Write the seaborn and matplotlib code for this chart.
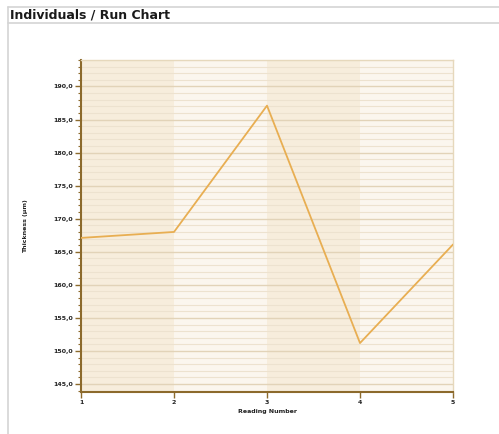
import matplotlib
matplotlib.use("Agg")
import matplotlib.pyplot as plt
import seaborn as sns
import pandas as pd
from matplotlib.ticker import MultipleLocator, FuncFormatter

# values
reading_number = [1, 2, 3, 4, 5]
thickness = [167.1, 168.0, 187.1, 151.2, 166.1]

df = pd.DataFrame({"reading": reading_number, "thickness": thickness})

sns.set_theme(style="white")
plt.rcParams["font.family"] = ["DejaVu Sans"]

fig = plt.figure(figsize=(4.99, 4.34), dpi=100)

# panel frame + title bar
fig.add_artist(plt.Line2D([8/499, 1], [1 - 7/434, 1 - 7/434], color="#d4d4d4", lw=1.2))
fig.add_artist(plt.Line2D([8/499, 1], [1 - 23/434, 1 - 23/434], color="#d4d4d4", lw=1.2))
fig.add_artist(plt.Line2D([8/499, 8/499], [0, 1 - 7/434], color="#d4d4d4", lw=1.2))
fig.text(10/499, 1 - 15/434, "Individuals / Run Chart", fontsize=9, fontweight="bold",
         va="center", ha="left", color="#1a1a1a")

ax = fig.add_axes([81/499, 42/434, 372/499, 332/434])

# alternating vertical bands
for i in range(len(reading_number) - 1):
    c = "#f7eddc" if i % 2 == 0 else "#fbf6ee"
    ax.axvspan(reading_number[i], reading_number[i + 1], color=c, lw=0, zorder=0)

ax.set_ylim(143.8, 194.0)
ax.set_xlim(1, 5)
ax.yaxis.set_major_locator(MultipleLocator(5))
ax.yaxis.set_minor_locator(MultipleLocator(1))
ax.xaxis.set_major_locator(MultipleLocator(1))
ax.grid(which="minor", axis="y", color="#ede2cf", lw=0.8, zorder=1)
ax.grid(which="major", axis="y", color="#e2d3b8", lw=1.0, zorder=1)

sns.lineplot(data=df, x="reading", y="thickness", color="#e8ae52", lw=1.3, ax=ax, zorder=3)

ax.yaxis.set_major_formatter(FuncFormatter(lambda v, p: f"{v:.1f}".replace(".", ",")))
ax.xaxis.set_major_formatter(FuncFormatter(lambda v, p: f"{int(v)}"))

for s in ["left", "bottom"]:
    ax.spines[s].set_color("#8c6a2c")
    ax.spines[s].set_linewidth(1.5)
for s in ["top", "right"]:
    ax.spines[s].set_color("#e6d8bc")
    ax.spines[s].set_linewidth(1.0)

ax.tick_params(axis="both", which="major", length=4, width=1, color="#8c6a2c",
               labelsize=4.5, pad=2, direction="out", left=True, bottom=True)
ax.tick_params(axis="y", which="minor", length=2, width=0.8, color="#8c6a2c", left=True)
for lab in ax.get_xticklabels() + ax.get_yticklabels():
    lab.set_fontweight("bold")
    lab.set_color("#222222")

ax.set_xlabel("Reading Number", fontsize=4.5, fontweight="bold", labelpad=3, color="#222222")
ax.set_ylabel("Thickness (µm)", fontsize=4.5, fontweight="bold", labelpad=18, color="#222222")

fig.savefig("out.png", dpi=100)
